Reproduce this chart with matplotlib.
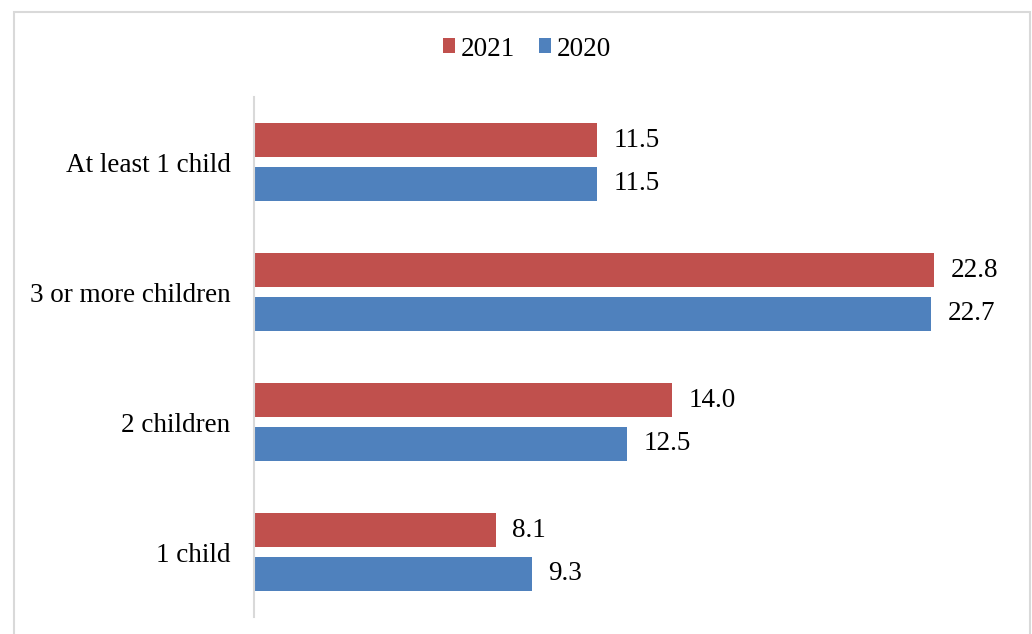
import matplotlib
matplotlib.use("Agg")
import matplotlib.pyplot as plt
from matplotlib.patches import Rectangle

categories = ["1 child", "2 children", "3 or more children", "At least 1 child"]
values_2021 = [8.1, 14.0, 22.8, 11.5]
values_2020 = [9.3, 12.5, 22.7, 11.5]

RED = "#C0504D"
BLUE = "#4F81BD"
GRID = "#D9D9D9"

plt.rcParams["font.family"] = ["Liberation Serif", "DejaVu Serif"]

W, H = 1032, 634
FS = 19.5
fig = plt.figure(figsize=(W / 100, H / 100), dpi=100)
ax = fig.add_axes([254 / W, 1 - 617 / H, (1000 - 254) / W, (617 - 97) / H])

y = list(range(len(categories)))
h = 0.26
off = 0.168
ax.barh([v + off for v in y], values_2021, height=h, color=RED, label="2021")
ax.barh([v - off for v in y], values_2020, height=h, color=BLUE, label="2020")

for i in y:
    ax.text(values_2021[i] + 0.55, i + off, f"{values_2021[i]:.1f}",
            va="center", ha="left", fontsize=FS)
    ax.text(values_2020[i] + 0.55, i - off, f"{values_2020[i]:.1f}",
            va="center", ha="left", fontsize=FS)

ax.set_xlim(0, 25)
ax.set_ylim(-0.5, 3.5)
ax.set_yticks(y)
ax.set_yticklabels(categories, fontsize=FS)
ax.tick_params(axis="y", length=0, pad=17)
ax.set_xticks([])
for s in ["top", "right", "bottom"]:
    ax.spines[s].set_visible(False)
ax.spines["left"].set_color(GRID)
ax.spines["left"].set_linewidth(1.5)

handles, labels = ax.get_legend_handles_labels()
fig.legend(handles, labels, loc="center", bbox_to_anchor=(527 / W, 1 - 49 / H),
           ncol=2, frameon=False, fontsize=FS, handlelength=0.46, handleheight=0.46,
           handletextpad=0.22, columnspacing=0.85)

fig.patches.append(Rectangle((14 / W, -0.05), (1030 - 14) / W, 1.05 - 12 / H,
                             transform=fig.transFigure, fill=False,
                             edgecolor=GRID, linewidth=1.5))

fig.savefig("out.png", dpi=100, facecolor="white")
